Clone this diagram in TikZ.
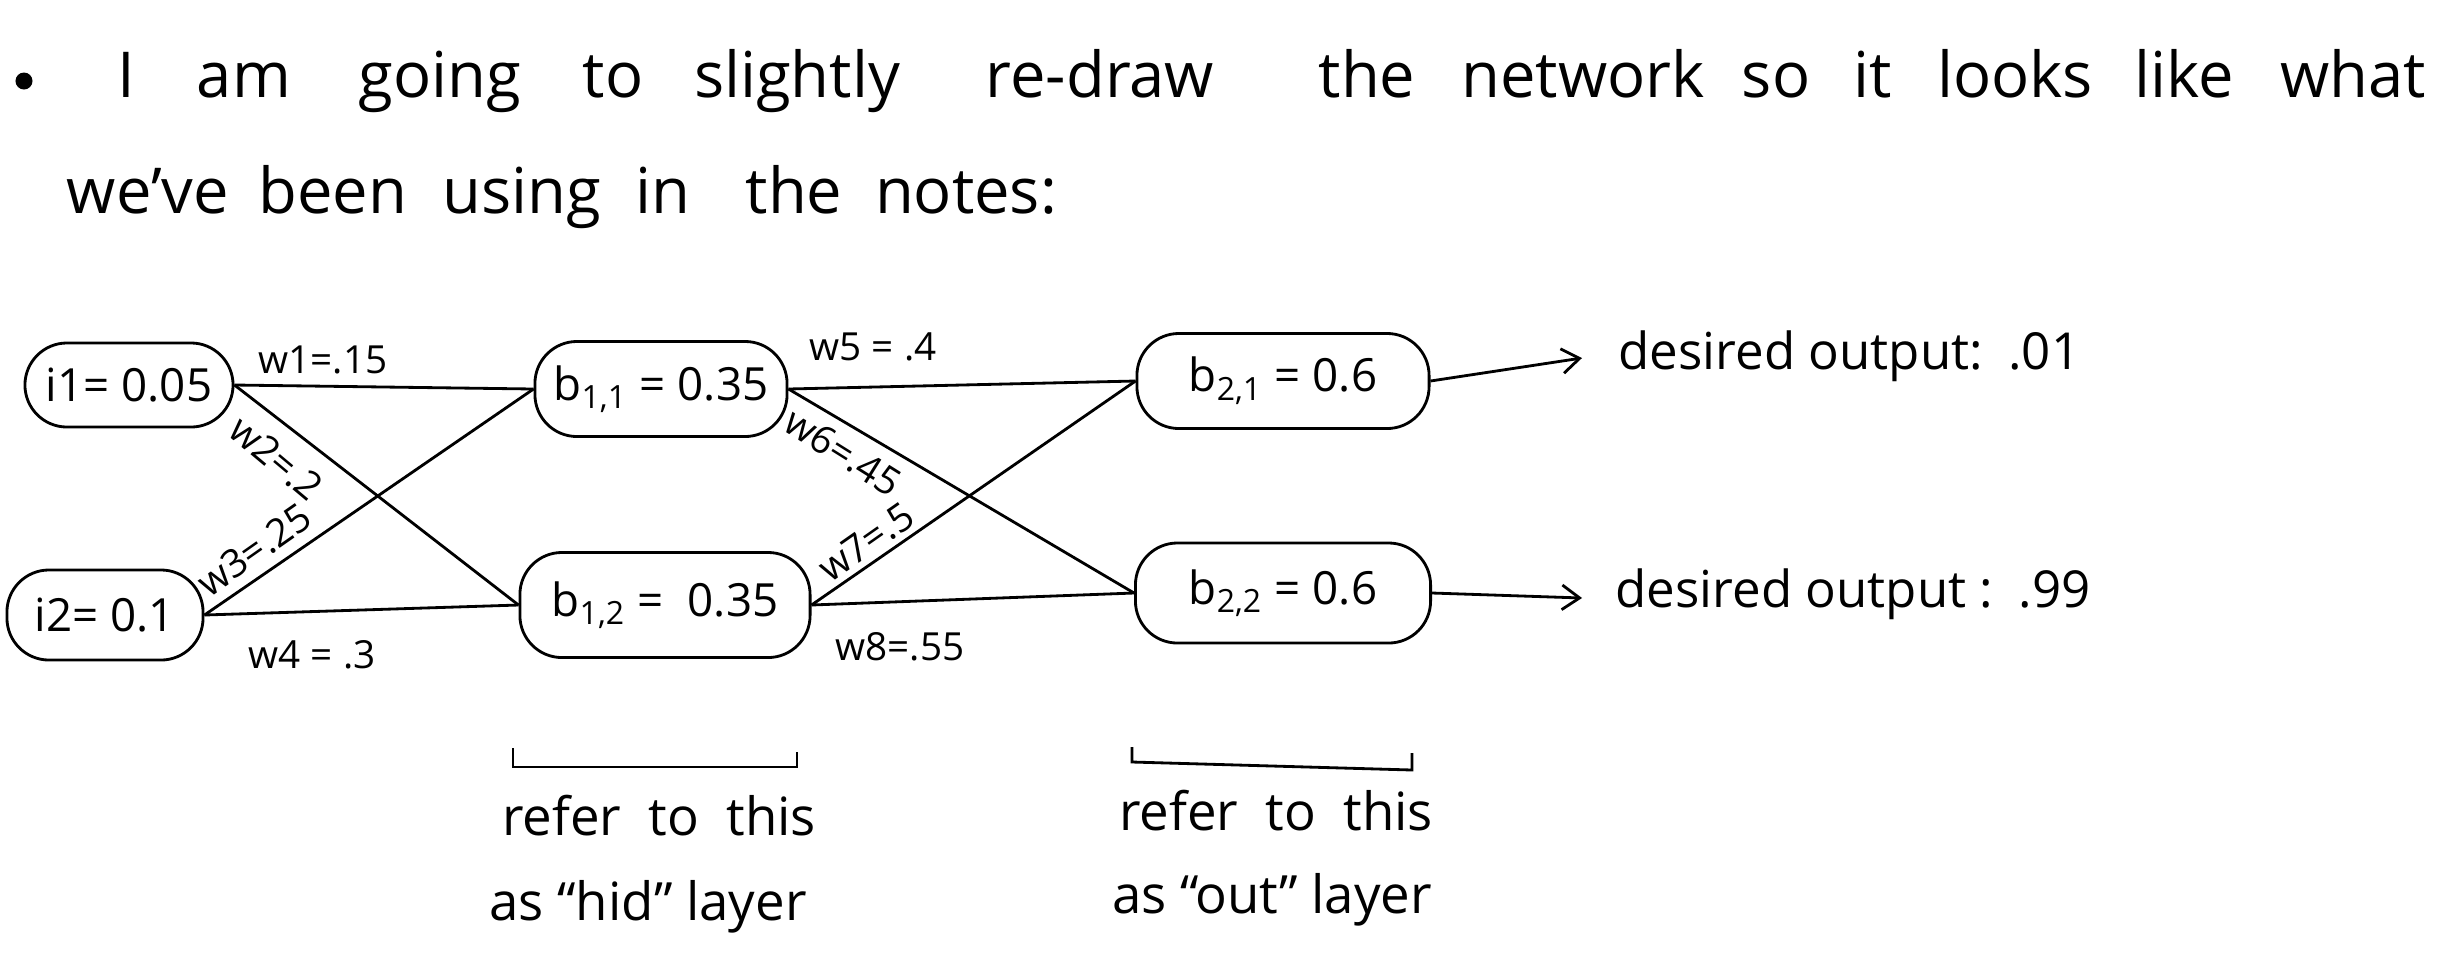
\documentclass[tikz,border=0pt]{standalone}
\usepackage{fontspec}
\setmainfont{Open Sans}
\usetikzlibrary{arrows.meta}
\begin{document}
\begin{tikzpicture}[x=0.01cm,y=-0.01cm,
  hand/.style={font=\fontsize{18}{20}\selectfont, inner sep=0pt, anchor=base},
  unit/.style={draw, rectangle, rounded corners=0.42cm, line width=0.8pt, inner sep=0pt, font=\fontsize{13}{15}\selectfont},
  wlab/.style={font=\fontsize{11}{13}\selectfont, inner sep=0pt},
  conn/.style={line width=0.8pt},
  outarrow/.style={line width=0.8pt, -{Straight Barb[length=5pt,width=7pt]}},
  note/.style={font=\fontsize{15}{17}\selectfont, inner sep=0pt, anchor=base},
  bracket/.style={line width=0.8pt},
]
\fill[white] (0,0) rectangle (2464,960);
\useasboundingbox (0,0) rectangle (2464,960);

% heading
\node[circle, fill, inner sep=0pt, minimum size=0.17cm] (bullet) at (24,81) {};
\foreach \t/\x [count=\k] in {I/126, am/244, going/440, to/613, slightly/797, re-draw/1100, the/1367, network/1583, so/1776, it/1873, looks/2015, like/2184, what/2353}
  \node[hand] (ta\k) at (\x,97) {\t};
\foreach \t/\x [count=\k] in {we've/148, been/333, using/522, in/663, the/794, notes:/966}
  \node[hand] (tb\k) at (\x,213) {\t};

% units
\node[unit, minimum width=2.08cm, minimum height=0.84cm] (i1) at (129,385) {i1= 0.05};
\node[unit, minimum width=1.96cm, minimum height=0.90cm] (i2) at (105,615) {i2= 0.1};
\node[unit, minimum width=2.52cm, minimum height=0.95cm] (b11) at (661,389) {b\textsubscript{1,1} = 0.35};
\node[unit, minimum width=2.90cm, minimum height=1.05cm] (b12) at (665,605) {b\textsubscript{1,2} = \ 0.35};
\node[unit, minimum width=2.92cm, minimum height=0.95cm] (b21) at (1283,381) {b\textsubscript{2,1} = 0.6};
\node[unit, minimum width=2.95cm, minimum height=1.00cm] (b22) at (1283,593) {b\textsubscript{2,2} = 0.6};

% connectors
\draw[conn] (i1.east) -- (b11.west);
\draw[conn] (i1.east) -- (b12.west);
\draw[conn] (i2.east) -- (b11.west);
\draw[conn] (i2.east) -- (b12.west);
\draw[conn] (b11.east) -- (b21.west);
\draw[conn] (b11.east) -- (b22.west);
\draw[conn] (b12.east) -- (b21.west);
\draw[conn] (b12.east) -- (b22.west);

% weight labels
\node[wlab] (lw1) at (323,360) {w1=.15};
\node[wlab, rotate=-40] (lw2) at (276,458) {w2=.2};
\node[wlab, rotate=35] (lw3) at (254,550) {w3=.25};
\node[wlab] (lw4) at (312,655) {w4 = .3};
\node[wlab] (lw5) at (873,347) {w5 = .4};
\node[wlab, rotate=-32] (lw6) at (843,452) {w6=.45};
\node[wlab, rotate=35] (lw7) at (866,542) {w7=.5};
\node[wlab] (lw8) at (900,647) {w8=.55};

% outputs
\coordinate (o1) at (1582,358);
\coordinate (o2) at (1582,598);
\draw[outarrow] (b21.east) -- (o1);
\draw[outarrow] (b22.east) -- (o2);
\node[note, font=\fontsize{14.5}{17}\selectfont, anchor=base west] (d1) at (1618,369) {desired output:\hspace{0.5em}.01};
\node[note, font=\fontsize{14.5}{17}\selectfont, anchor=base west] (d2) at (1615,607) {desired output :\hspace{0.5em}.99};

% layer brackets
\coordinate (h1) at (513,748); \coordinate (h2) at (513,767);
\coordinate (h3) at (797,767); \coordinate (h4) at (797,752);
\draw[bracket] (h1) -- (h2) -- (h3) -- (h4);
\coordinate (q1) at (1132,747); \coordinate (q2) at (1132,762);
\coordinate (q3) at (1412,770); \coordinate (q4) at (1412,753);
\draw[bracket] (q1) -- (q2) -- (q3) -- (q4);

\node[note] (r1) at (659,835) {refer\ \ to\ \ this};
\node[note] (r2) at (648,920) {as “hid” layer};
\node[note] (r3) at (1276,830) {refer\ \ to\ \ this};
\node[note] (r4) at (1272,913) {as “out” layer};
\end{tikzpicture}
\end{document}
